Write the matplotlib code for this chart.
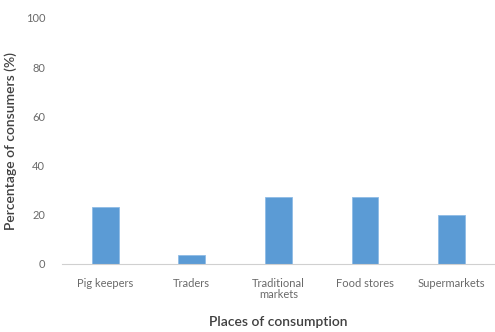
import matplotlib
matplotlib.use('Agg')
import matplotlib.pyplot as plt

# Dados
lugares = ['Pig keepers', 'Traders', 'Traditional\nmarkets', 'Food stores', 'Supermarkets']
percentuais = [23.2, 3.5, 27.2, 27.2, 20.0]
yticks = [0, 20, 40, 60, 80, 100]

plt.rcParams['font.family'] = ['Lato', 'DejaVu Sans']

fig = plt.figure(figsize=(4.95, 3.32), dpi=100)
ax = fig.add_axes([0.125, 0.205, 0.875, 0.741])

x = range(len(lugares))
ax.bar(x, percentuais, width=0.31, color='#5b9bd5', edgecolor='#8fbce6', linewidth=0.6)

ax.set_xlim(-0.5, len(lugares) - 0.5)
ax.set_ylim(0, 100)
ax.set_yticks(yticks)
ax.set_yticklabels([str(v) for v in yticks], color='#6a6a6a', fontsize=8)
ax.set_xticks(list(x))
ax.set_xticklabels(lugares, color='#6a6a6a', fontsize=8, linespacing=1.0)
ax.tick_params(axis='both', length=0)
ax.tick_params(axis='y', pad=12)
ax.tick_params(axis='x', pad=10)

for lado in ['top', 'right', 'left']:
    ax.spines[lado].set_visible(False)
ax.spines['bottom'].set_color('#d0d0d0')

ax.set_ylabel('Percentage of consumers (%)', color='#404040', fontsize=10,
              fontweight='semibold', labelpad=6)
ax.set_xlabel('Places of consumption', color='#404040', fontsize=10,
              fontweight='semibold', labelpad=12)

fig.savefig('out.png', dpi=100)
